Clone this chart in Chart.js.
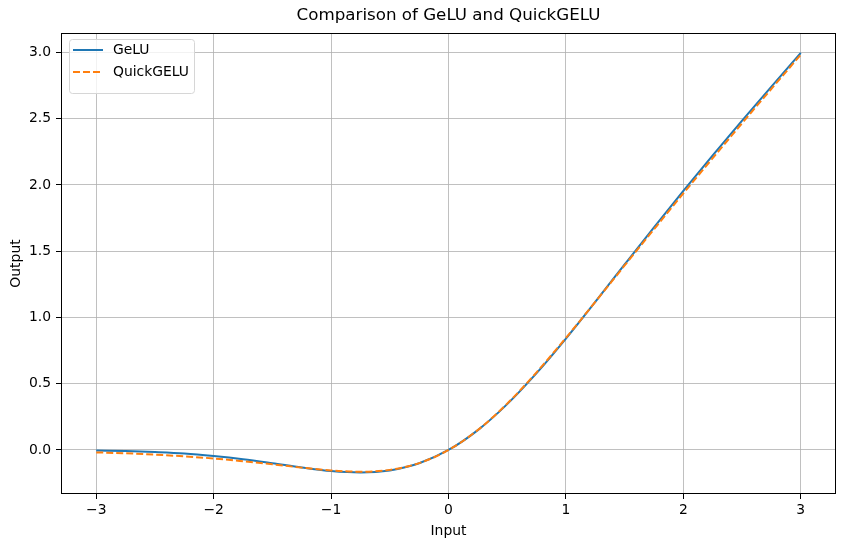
<!DOCTYPE html>
<html>
<head>
<meta charset="utf-8">
<script src="https://cdn.jsdelivr.net/npm/chart.js@4/dist/chart.umd.min.js"></script>
<style>
html,body{margin:0;padding:0;background:#fff;}
#wrap{width:846px;height:547px;position:relative;}
</style>
</head>
<body>
<div id="wrap"><canvas id="c" width="846" height="547"></canvas></div>
<script>
const inputs = [-3,-2.75,-2.5,-2.25,-2,-1.75,-1.5,-1.25,-1,-0.75,-0.5,-0.25,0,0.25,0.5,0.75,1,1.25,1.5,1.75,2,2.25,2.5,2.75,3];
const geluValues = [-0.004,-0.008,-0.016,-0.027,-0.046,-0.070,-0.100,-0.132,-0.159,-0.170,-0.154,-0.100,0,0.150,0.346,0.580,0.841,1.118,1.400,1.680,1.955,2.223,2.485,2.742,2.996];
const quickGeluValues = [-0.018,-0.025,-0.035,-0.048,-0.064,-0.085,-0.108,-0.133,-0.154,-0.164,-0.150,-0.099,0,0.151,0.350,0.586,0.846,1.117,1.392,1.665,1.936,2.202,2.465,2.725,2.982];
const xTicks = [-3,-2,-1,0,1,2,3];
const yTicks = [0,0.5,1,1.5,2,2.5,3];
const seriesNames = ['GeLU','QuickGELU'];
const titleText = 'Comparison of GeLU and QuickGELU';

const FONT = 'DejaVu Sans';
const FS = 13.9;
const toPts = (xs, ys) => xs.map((x,i)=>({x:x,y:ys[i]}));

const frame = {
  id:'frame',
  afterDatasetsDraw(chart){
    const a = chart.chartArea, ctx = chart.ctx;
    ctx.save();
    // axes frame
    ctx.strokeStyle = '#000'; ctx.lineWidth = 1;
    const L = Math.round(a.left), T = Math.round(a.top), R = Math.round(a.right), B = Math.round(a.bottom);
    ctx.strokeRect(L+0.5, T+0.5, R-L-1, B-T-1);
    // title centred over the plot area
    ctx.fillStyle = '#000';
    ctx.font = '16.7px "' + FONT + '"';
    ctx.textAlign = 'center';
    ctx.textBaseline = 'middle';
    ctx.fillText(titleText, (a.left + a.right)/2, 16);
    ctx.textAlign = 'left';
    // legend (inside plot, upper left)
    const x0 = a.left + 8, y0 = a.top + 6, w = 125, h = 54;
    ctx.fillStyle = 'rgba(255,255,255,0.8)';
    ctx.strokeStyle = '#d6d6d6';
    ctx.lineWidth = 1;
    ctx.beginPath();
    ctx.roundRect(x0+0.5, y0+0.5, w, h, 3);
    ctx.fill(); ctx.stroke();
    chart.data.datasets.forEach((ds,i)=>{
      const ly = y0 + 11 + i*22;
      ctx.strokeStyle = ds.borderColor;
      ctx.lineWidth = ds.borderWidth;
      ctx.setLineDash(ds.borderDash || []);
      ctx.beginPath(); ctx.moveTo(x0+4, ly); ctx.lineTo(x0+34, ly); ctx.stroke();
      ctx.setLineDash([]);
      ctx.fillStyle = '#000';
      ctx.font = FS + 'px "' + FONT + '"';
      ctx.textBaseline = 'middle';
      ctx.fillText(ds.label, x0+44, ly);
    });
    ctx.restore();
  }
};

new Chart(document.getElementById('c'), {
  type: 'line',
  data: {
    datasets: [
      {label: seriesNames[0], data: toPts(inputs, geluValues), borderColor:'#1f77b4', borderWidth:2, pointRadius:0, cubicInterpolationMode:'monotone', fill:false, order:1},
      {label: seriesNames[1], data: toPts(inputs, quickGeluValues), borderColor:'#ff7f0e', borderWidth:2, borderDash:[7,3], pointRadius:0, cubicInterpolationMode:'monotone', fill:false, order:0}
    ]
  },
  options: {
    responsive:false,
    animation:false,
    layout:{padding:{left:8,right:10,top:33,bottom:7}},
    plugins:{
      legend:{display:false},
      tooltip:{enabled:false},
      title:{display:false}
    },
    scales:{
      x:{
        type:'linear', min:-3.3, max:3.3,
        afterBuildTicks(s){ s.ticks = xTicks.map(v=>({value:v})); },
        afterFit(s){ s.height = 46; },
        ticks:{color:'#000', font:{family:FONT,size:FS}, padding:3, maxRotation:0, callback:v=> (v<0?'\u2212'+Math.abs(v):String(v))},
        grid:{color:'#b0b0b0', lineWidth:0.8, tickColor:'#000', tickLength:5, tickWidth:1},
        border:{display:false},
        title:{display:true,text:'Input',color:'#000',font:{family:FONT,size:FS,lineHeight:1.2},padding:{top:0,bottom:0}}
      },
      y:{
        type:'linear', min:-0.332, max:3.146,
        afterBuildTicks(s){ s.ticks = yTicks.map(v=>({value:v})); },
        afterFit(s){ s.width = 53; },
        ticks:{color:'#000', font:{family:FONT,size:FS}, padding:5, callback:v=>v.toFixed(1)},
        grid:{color:'#b0b0b0', lineWidth:0.8, tickColor:'#000', tickLength:5, tickWidth:1},
        border:{display:false},
        title:{display:true,text:'Output',color:'#000',font:{family:FONT,size:FS,lineHeight:1.2},padding:{top:0,bottom:0}}
      }
    }
  },
  plugins:[frame]
});
</script>
</body>
</html>
